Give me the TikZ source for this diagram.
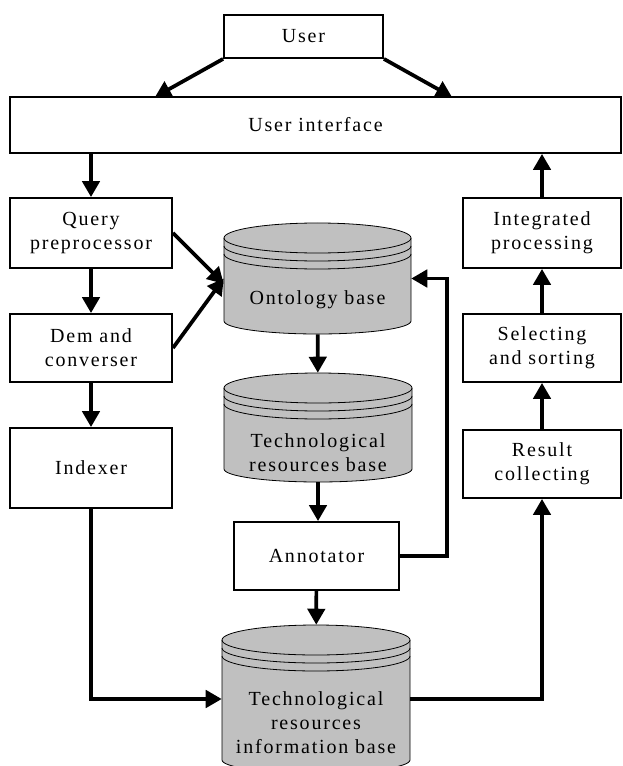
\documentclass[tikz,border=0pt]{standalone}
\usepackage{fontspec}
\setmainfont{Liberation Serif}[LetterSpace=9]
\usetikzlibrary{arrows.meta,positioning,fit}
\definecolor{dbgray}{RGB}{192,192,192}

% cylinder store: name, left, right, top, bottom
\newcommand{\database}[5]{%
  \node[fit={(#2,#4) (#3,#5)}, inner sep=0pt] (#1) {};
  \filldraw[dbline] (#2,#4+15) -- (#2,#5-13) arc[start angle=180, end angle=0, x radius={(#3-#2)/2}, y radius=13] -- (#3,#4+15) arc[start angle=0, end angle=-180, x radius={(#3-#2)/2}, y radius=15] -- cycle;
  \foreach \ring in {15,23,31}
    \draw[dbline, fill=none] (#2,#4+\ring) arc[start angle=180, end angle=0, x radius={(#3-#2)/2}, y radius=15];
}

\begin{document}
\begin{tikzpicture}[x=0.75pt,y=0.75pt,yscale=-1,
    box/.style={draw, line width=1.4pt, fill=white, align=center, inner sep=0pt, font=\fontsize{15}{18}\selectfont},
    dbline/.style={draw, line width=0.6pt, fill=dbgray},
    dbtext/.style={align=center, inner sep=0pt, font=\fontsize{15}{18}\selectfont},
    flow/.style={line width=2.8pt, -{Triangle[length=12pt,width=13pt]}}]
    \useasboundingbox (0,0) rectangle (622,766);

    %Top boxes
    \node[box, minimum width=119.25pt, minimum height=32.25pt] (user) at (303.5,36.5) {User};
    \node[box, minimum width=458.25pt, minimum height=42pt] (ui) at (315.5,125) {User interface};
    \coordinate (uileft) at (155,97);
    \coordinate (uiright) at (452,97);

    %Left column
    \node[box, minimum width=121.5pt, minimum height=52.5pt] (query) at (91,233) {Query\\preprocessor};
    \node[box, minimum width=121.5pt, minimum height=51pt] (dem) at (91,348) {Dem and\\converser};
    \node[box, minimum width=121.5pt, minimum height=60pt] (indexer) at (91,468) {Indexer};

    %Right column
    \node[box, minimum width=118.5pt, minimum height=52.5pt] (integ) at (542,233) {Integrated\\processing};
    \node[box, minimum width=118.5pt, minimum height=51pt] (select) at (542,348) {Selecting\\and sorting};
    \node[box, minimum width=118.5pt, minimum height=51pt] (result) at (542,464) {Result\\collecting};

    %Stores in the middle
    \database{onto}{224}{411}{223}{334}
    \node[dbtext] (onto-label) at (317.5,300) {Ontology base};
    \database{trb}{224}{412}{373}{482}
    \node[dbtext] (trb-label) at (318,453) {Technological\\resources base};
    \database{trib}{222}{410}{625}{773}
    \node[dbtext] (trib-label) at (316,723) {Technological\\resources\\information base};
    \node[box, minimum width=123.75pt, minimum height=51pt] (annot) at (316.5,556) {Annotator};

    %Connectors
    \draw[flow] (user.south west) -- (uileft);
    \draw[flow] (user.south east) -- (uiright);
    \draw[flow] (ui.south -| query.north) -- (query.north);
    \draw[flow] (query) -- (dem);
    \draw[flow] (dem) -- (indexer);
    \draw[flow] (query.east) -- ([yshift=4pt]onto.west);
    \draw[flow] (dem.east) -- (onto.west);
    \draw[flow] (onto) -- (trb);
    \draw[flow] (trb.south) -- (trb.south |- annot.north);
    \draw[flow] (annot) -- (trib);
    \draw[flow] (annot.east) -- ++(47,0) |- (onto.east);
    \draw[flow] (indexer.south) |- (trib.west);
    \draw[flow] (trib.east) -| (result.south);
    \draw[flow] (result) -- (select);
    \draw[flow] (select) -- (integ);
    \draw[flow] (integ.north) -- (integ.north |- ui.south);
\end{tikzpicture}
\end{document}
